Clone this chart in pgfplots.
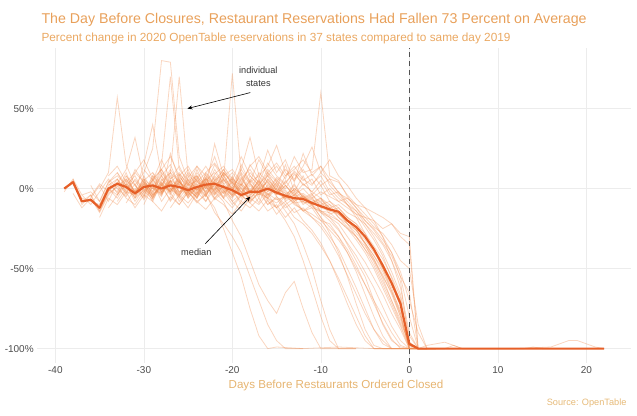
\documentclass[border=0pt]{standalone}
\usepackage{pgfplots}
\pgfplotsset{compat=1.18}
\usepackage{fontspec}
\setmainfont{Liberation Sans}
\usetikzlibrary{arrows.meta}
\definecolor{titlec}{RGB}{232,160,90}
\definecolor{subc}{RGB}{234,168,98}
\definecolor{labc}{RGB}{230,180,112}
\definecolor{srcc}{RGB}{230,186,120}
\definecolor{medc}{RGB}{230,95,40}
\definecolor{stc}{RGB}{240,140,80}
\definecolor{tickc}{RGB}{77,77,77}
\definecolor{gridc}{RGB}{236,236,236}
\pgfplotsset{st/.style={color=stc, opacity=0.36, line width=0.8pt, mark=none}}
\begin{document}
\begin{tikzpicture}
\path[use as bounding box] (0,0) rectangle (637pt,415pt);
\begin{axis}[
 at={(37.2pt,52pt)}, anchor=south west,
 scale only axis, width=593.8pt, height=315.2pt,
 xmin=-42.05, xmax=25.05, ymin=-109, ymax=88,
 axis line style={draw=none}, tick style={draw=none},
 xtick={-40,-30,-20,-10,0,10,20}, xticklabels={-40,-30,-20,-10,0,10,20},
 ytick={-100,-50,0,50}, yticklabels={-100\%,-50\%,0\%,50\%},
 grid=major, major grid style={draw=gridc, line width=0.6pt},
 ticklabel style={font=\fontsize{10}{12}\selectfont, text=tickc},
]
% individual states
\addplot[st] coordinates {(-34,5)(-33,-3)(-32,8)(-31,2)(-30,10)(-29,25)(-28,80)(-27,79)(-26,20)(-25,5)(-24,8)(-23,0)(-22,12)(-21,3)(-20,6)(-19,-2)(-18,4)(-17,8)(-16,1)(-15,-4)(-14,5)(-13,-3)(-12,-8)(-11,-5)(-10,-15)(-9,-18)(-8,-25)(-7,-35)(-6,-45)(-5,-55)(-4,-70)(-3,-85)(-2,-95)(-1,-99)(0,-100)(2,-100)};
\addplot[st] coordinates {(-36,-5)(-35,3)(-34,-2)(-33,6)(-32,-4)(-31,10)(-30,4)(-29,-2)(-28,15)(-27,70)(-26,12)(-25,5)(-24,-3)(-23,9)(-22,2)(-21,-6)(-20,7)(-19,0)(-18,-5)(-17,3)(-16,-2)(-15,6)(-14,-1)(-13,-7)(-12,-5)(-11,-8)(-10,-6)(-9,-12)(-8,-10)(-7,-15)(-6,-18)(-5,-22)(-4,-28)(-3,-35)(-2,-45)(-1,-58)(0,-98)(1,-100)(3,-100)};
\addplot[st] coordinates {(-33,-8)(-32,0)(-31,-5)(-30,3)(-29,-6)(-28,5)(-27,10)(-26,70)(-25,8)(-24,-2)(-23,4)(-22,-4)(-21,2)(-20,-8)(-19,-3)(-18,5)(-17,-1)(-16,-6)(-15,2)(-14,-8)(-13,-4)(-12,-8)(-11,-10)(-10,-14)(-9,-15)(-8,-20)(-7,-25)(-6,-32)(-5,-40)(-4,-50)(-3,-62)(-2,-74)(-1,-86)(0,-100)(2,-100)};
\addplot[st] coordinates {(-35,0)(-34,10)(-33,57)(-32,15)(-31,2)(-30,-4)(-29,6)(-28,-3)(-27,4)(-26,9)(-25,-2)(-24,3)(-23,-5)(-22,5)(-21,0)(-20,-4)(-19,6)(-18,-2)(-17,2)(-16,-4)(-15,4)(-14,-2)(-13,-8)(-12,-4)(-11,-10)(-10,-8)(-9,-16)(-8,-14)(-7,-22)(-6,-30)(-5,-38)(-4,-48)(-3,-60)(-2,-72)(-1,-85)(0,-99)(1,-100)};
\addplot[st] coordinates {(-30,-10)(-29,2)(-28,-4)(-27,8)(-26,-2)(-25,4)(-24,-6)(-23,10)(-22,3)(-21,5)(-20,72)(-19,8)(-18,-3)(-17,6)(-16,-2)(-15,4)(-14,-5)(-13,2)(-12,-6)(-11,-3)(-10,-12)(-9,-10)(-8,-18)(-7,-24)(-6,-30)(-5,-38)(-4,-45)(-3,-55)(-2,-65)(-1,-78)(0,-100)(1,-100)};
\addplot[st] coordinates {(-32,4)(-31,-6)(-30,8)(-29,-2)(-28,12)(-27,0)(-26,6)(-25,-4)(-24,10)(-23,2)(-22,15)(-21,6)(-20,-2)(-19,12)(-18,4)(-17,18)(-16,8)(-15,14)(-14,6)(-13,20)(-12,10)(-11,12)(-10,60)(-9,8)(-8,5)(-7,-5)(-6,-12)(-5,-20)(-4,-25)(-3,-32)(-2,-40)(-1,-55)(0,-65)(1,-100)(2,-100)};
\addplot[st] coordinates {(-34,-12)(-33,-4)(-32,6)(-31,-2)(-30,15)(-29,40)(-28,8)(-27,-3)(-26,5)(-25,-6)(-24,2)(-23,-8)(-22,4)(-21,-3)(-20,8)(-19,-6)(-18,0)(-17,-9)(-16,3)(-15,-5)(-14,-10)(-13,-6)(-12,-14)(-11,-12)(-10,-20)(-9,-22)(-8,-30)(-7,-38)(-6,-48)(-5,-60)(-4,-72)(-3,-84)(-2,-94)(-1,-100)(0,-100)};
\addplot[st] coordinates {(-33,3)(-32,12)(-31,32)(-30,6)(-29,-4)(-28,10)(-27,2)(-26,-5)(-25,7)(-24,14)(-23,4)(-22,-3)(-21,8)(-20,0)(-19,10)(-18,3)(-17,-4)(-16,6)(-15,-1)(-14,-6)(-13,0)(-12,-5)(-11,-9)(-10,-6)(-9,-14)(-8,-12)(-7,-18)(-6,-22)(-5,-28)(-4,-36)(-3,-44)(-2,-55)(-1,-68)(0,-100)(1,-100)};
\addplot[st] coordinates {(-31,-6)(-30,2)(-29,-8)(-28,4)(-27,-2)(-26,8)(-25,0)(-24,-6)(-23,6)(-22,-2)(-21,10)(-20,3)(-19,12)(-18,32)(-17,8)(-16,14)(-15,27)(-14,10)(-13,5)(-12,12)(-11,3)(-10,8)(-9,-2)(-8,-8)(-7,-12)(-6,-16)(-5,-18)(-4,-20)(-3,-25)(-2,-22)(-1,-28)(0,-30)(1,-100)(2,-100)};
\addplot[st] coordinates {(-38,-3)(-37,-12)(-36,-6)(-35,-15)(-34,-4)(-33,2)(-32,-6)(-31,-10)(-30,-2)(-29,4)(-28,-8)(-27,0)(-26,-5)(-25,-12)(-24,-3)(-23,2)(-22,-6)(-21,-1)(-20,-8)(-19,-14)(-18,-6)(-17,-10)(-16,-3)(-15,-12)(-14,-8)(-13,-15)(-12,-12)(-11,-18)(-10,-22)(-9,-30)(-8,-38)(-7,-50)(-6,-62)(-5,-75)(-4,-88)(-3,-97)(-2,-100)(0,-100)};
\addplot[st] coordinates {(-39,0)(-38,5)(-37,-6)(-36,-8)(-35,-10)(-34,2)(-33,6)(-32,-2)(-31,-4)(-30,3)(-29,0)(-28,-3)(-27,5)(-26,2)(-25,-4)(-24,0)(-23,6)(-22,3)(-21,-2)(-20,1)(-19,-5)(-18,-1)(-17,-4)(-16,2)(-15,-3)(-14,-6)(-13,-4)(-12,-9)(-11,-8)(-10,-12)(-9,-14)(-8,-16)(-7,-22)(-6,-26)(-5,-34)(-4,-42)(-3,-52)(-2,-64)(-1,-76)(0,-97)(1,-100)(2,-100)};
\addplot[st] coordinates {(-37,-8)(-36,-4)(-35,-14)(-34,-2)(-33,4)(-32,2)(-31,-6)(-30,-1)(-29,5)(-28,-2)(-27,3)(-26,-4)(-25,2)(-24,5)(-23,-3)(-22,8)(-21,2)(-20,-5)(-19,1)(-18,-7)(-17,0)(-16,4)(-15,-4)(-14,2)(-13,-5)(-12,-3)(-11,-7)(-10,-10)(-9,-8)(-8,-14)(-7,-18)(-6,-22)(-5,-30)(-4,-38)(-3,-50)(-2,-60)(-1,-70)(0,-100)(1,-100)};
\addplot[st] coordinates {(-35,-18)(-34,-6)(-33,-10)(-32,-2)(-31,-12)(-30,-4)(-29,-8)(-28,-14)(-27,-5)(-26,-10)(-25,-2)(-24,-8)(-23,-13)(-22,-6)(-21,-10)(-20,-16)(-19,-8)(-18,-12)(-17,-6)(-16,-14)(-15,-10)(-14,-18)(-13,-12)(-12,-20)(-11,-26)(-10,-34)(-9,-45)(-8,-58)(-7,-72)(-6,-85)(-5,-95)(-4,-100)(-2,-100)};
\addplot[st] coordinates {(-34,8)(-33,14)(-32,4)(-31,10)(-30,18)(-29,6)(-28,12)(-27,20)(-26,8)(-25,14)(-24,4)(-23,10)(-22,16)(-21,8)(-20,12)(-19,4)(-18,14)(-17,20)(-16,10)(-15,16)(-14,8)(-13,12)(-12,18)(-11,10)(-10,14)(-9,6)(-8,4)(-7,-4)(-6,-10)(-5,-16)(-4,-22)(-3,-30)(-2,-40)(-1,-52)(0,-70)(1,-90)(2,-100)(3,-100)};
\addplot[st] coordinates {(-30,12)(-29,5)(-28,18)(-27,6)(-26,10)(-25,2)(-24,14)(-23,8)(-22,3)(-21,12)(-20,5)(-19,20)(-18,8)(-17,2)(-16,10)(-15,4)(-14,12)(-13,6)(-12,14)(-11,26)(-10,10)(-9,18)(-8,8)(-7,2)(-6,-6)(-5,-12)(-4,-20)(-3,-30)(-2,-45)(-1,-62)(0,-90)(1,-100)(2,-100)};
\addplot[st] coordinates {(-29,-4)(-28,3)(-27,-8)(-26,1)(-25,-5)(-24,6)(-23,-2)(-22,4)(-21,-6)(-20,0)(-19,-10)(-18,-4)(-17,2)(-16,-8)(-15,-12)(-14,-4)(-13,-9)(-12,-14)(-11,-10)(-10,-18)(-9,-24)(-8,-30)(-7,-40)(-6,-52)(-5,-66)(-4,-80)(-3,-92)(-2,-100)(0,-100)};
\addplot[st] coordinates {(-28,6)(-27,-2)(-26,9)(-25,3)(-24,-4)(-23,7)(-22,0)(-21,10)(-20,4)(-19,-3)(-18,8)(-17,2)(-16,12)(-15,5)(-14,0)(-13,9)(-12,3)(-11,-2)(-10,5)(-9,-4)(-8,-2)(-7,-10)(-6,-14)(-5,-20)(-4,-26)(-3,-34)(-2,-42)(-1,-55)(0,-80)(1,-100)(4,-100)};
\addplot[st] coordinates {(-33,-4)(-32,3)(-31,-8)(-30,0)(-29,-5)(-28,4)(-27,-3)(-26,-10)(-25,-2)(-24,-8)(-23,-4)(-22,-12)(-21,-25)(-20,-40)(-19,-55)(-18,-75)(-17,-92)(-16,-100)(-15,-99)(-12,-100)(-8,-99)(-4,-100)(0,-100)(3,-100)};
\addplot[st] coordinates {(-31,2)(-30,-5)(-29,6)(-28,-2)(-27,4)(-26,-6)(-25,1)(-24,-3)(-23,5)(-22,-2)(-21,-8)(-20,-20)(-19,-30)(-18,-45)(-17,-60)(-16,-70)(-15,-78)(-14,-65)(-13,-58)(-12,-75)(-11,-90)(-10,-100)(-8,-100)};
\addplot[st] coordinates {(-36,-6)(-35,2)(-34,-8)(-33,4)(-32,-3)(-31,6)(-30,-1)(-29,-7)(-28,3)(-27,-4)(-26,5)(-25,-2)(-24,-9)(-23,-3)(-22,-15)(-21,-22)(-20,-30)(-19,-40)(-18,-55)(-17,-70)(-16,-85)(-15,-95)(-14,-100)(-12,-100)};
\addplot[st] coordinates {(-30,5)(-29,-3)(-28,8)(-27,0)(-26,-4)(-25,6)(-24,-1)(-23,4)(-22,-6)(-21,2)(-20,-4)(-19,3)(-18,-8)(-17,-2)(-16,-6)(-15,-12)(-14,-20)(-13,-30)(-12,-45)(-11,-62)(-10,-80)(-9,-95)(-8,-100)(-6,-100)};
\addplot[st] coordinates {(-34,0)(-33,-6)(-32,3)(-31,-2)(-30,6)(-29,-4)(-28,1)(-27,-7)(-26,4)(-25,-1)(-24,7)(-23,-3)(-22,2)(-21,-5)(-20,5)(-19,-2)(-18,-6)(-17,0)(-16,-10)(-15,-6)(-14,-14)(-13,-22)(-12,-35)(-11,-50)(-10,-70)(-9,-88)(-8,-100)(-6,-100)};
\addplot[st] coordinates {(-33,10)(-32,2)(-31,8)(-30,-2)(-29,5)(-28,12)(-27,3)(-26,-3)(-25,9)(-24,2)(-23,6)(-22,-1)(-21,10)(-20,4)(-19,-4)(-18,6)(-17,0)(-16,8)(-15,2)(-14,-5)(-13,3)(-12,-6)(-11,-10)(-10,-18)(-9,-28)(-8,-40)(-7,-55)(-6,-72)(-5,-88)(-4,-98)(-3,-100)(-1,-100)};
\addplot[st] coordinates {(-32,-9)(-31,0)(-30,-6)(-29,3)(-28,-3)(-27,5)(-26,-8)(-25,-1)(-24,-5)(-23,2)(-22,-7)(-21,-2)(-20,-10)(-19,-4)(-18,-9)(-17,-14)(-16,-7)(-15,-16)(-14,-10)(-13,-18)(-12,-22)(-11,-28)(-10,-36)(-9,-45)(-8,-56)(-7,-68)(-6,-80)(-5,-92)(-4,-100)(-2,-100)};
\addplot[st] coordinates {(-36,2)(-35,-8)(-34,4)(-33,10)(-32,0)(-31,5)(-30,-3)(-29,8)(-28,2)(-27,12)(-26,4)(-25,-2)(-24,6)(-23,14)(-22,5)(-21,9)(-20,-1)(-19,6)(-18,12)(-17,3)(-16,8)(-15,-2)(-14,4)(-13,10)(-12,2)(-11,6)(-10,-4)(-9,0)(-8,-6)(-7,-10)(-6,-16)(-5,-24)(-4,-32)(-3,-42)(-2,-56)(-1,-72)(0,-98)(1,-100)(5,-100)};
\addplot[st] coordinates {(-35,-10)(-34,0)(-33,-4)(-32,5)(-31,-2)(-30,2)(-29,-6)(-28,6)(-27,-1)(-26,3)(-25,-5)(-24,4)(-23,0)(-22,7)(-21,1)(-20,-3)(-19,4)(-18,-4)(-17,1)(-16,-5)(-15,3)(-14,-3)(-13,-1)(-12,-7)(-11,-4)(-10,-9)(-9,-12)(-8,-18)(-7,-22)(-6,-28)(-5,-34)(-4,-42)(-3,-50)(-2,-62)(-1,-78)(0,-100)(2,-100)};
\addplot[st] coordinates {(-33,6)(-32,-2)(-31,12)(-30,4)(-29,0)(-28,8)(-27,15)(-26,2)(-25,10)(-24,5)(-23,-2)(-22,9)(-21,14)(-20,6)(-19,2)(-18,10)(-17,4)(-16,16)(-15,8)(-14,3)(-13,11)(-12,5)(-11,9)(-10,2)(-9,6)(-8,-3)(-7,-6)(-6,-12)(-5,-18)(-4,-24)(-3,-28)(-2,-35)(-1,-45)(0,-50)(1,-85)(2,-100)(3,-100)};
\addplot[st] coordinates {(-31,-3)(-30,4)(-29,-5)(-28,2)(-27,-2)(-26,6)(-25,-6)(-24,1)(-23,-4)(-22,3)(-21,-1)(-20,-6)(-19,2)(-18,-3)(-17,5)(-16,-4)(-15,0)(-14,-7)(-13,-2)(-12,-10)(-11,-6)(-10,-14)(-9,-18)(-8,-22)(-7,-30)(-6,-38)(-5,-46)(-4,-56)(-3,-66)(-2,-78)(-1,-88)(0,-100)(2,-100)};
\addplot[st] coordinates {(-29,10)(-28,-2)(-27,6)(-26,14)(-25,3)(-24,8)(-23,-4)(-22,5)(-21,12)(-20,2)(-19,7)(-18,-2)(-17,10)(-16,4)(-15,-3)(-14,8)(-13,14)(-12,6)(-11,2)(-10,10)(-9,4)(-8,-2)(-7,-8)(-6,-14)(-5,-22)(-4,-30)(-3,-40)(-2,-52)(-1,-66)(0,-92)(1,-100)(3,-100)};
\addplot[st] coordinates {(-37,-4)(-36,-10)(-35,-2)(-34,6)(-33,0)(-32,-5)(-31,3)(-30,-7)(-29,1)(-28,-4)(-27,5)(-26,-2)(-25,0)(-24,-6)(-23,2)(-22,-1)(-21,6)(-20,-4)(-19,0)(-18,-8)(-17,-3)(-16,-6)(-15,-9)(-14,-4)(-13,-10)(-12,-13)(-11,-16)(-10,-20)(-9,-26)(-8,-32)(-7,-40)(-6,-50)(-5,-60)(-4,-70)(-3,-80)(-2,-90)(-1,-98)(0,-100)(1,-100)};
\addplot[st] coordinates {(-34,3)(-33,-2)(-32,10)(-31,-4)(-30,6)(-29,1)(-28,-5)(-27,10)(-26,4)(-25,12)(-24,-1)(-23,6)(-22,20)(-21,4)(-20,10)(-19,2)(-18,15)(-17,6)(-16,24)(-15,10)(-14,18)(-13,4)(-12,22)(-11,8)(-10,14)(-9,2)(-8,-4)(-7,-10)(-6,-18)(-5,-28)(-4,-38)(-3,-50)(-2,-64)(-1,-80)(0,-100)(2,-100)};
\addplot[st] coordinates {(-28,-2)(-27,5)(-26,-4)(-25,3)(-24,-1)(-23,7)(-22,-3)(-21,2)(-20,-5)(-19,3)(-18,-2)(-17,5)(-16,-6)(-15,0)(-14,-3)(-13,-8)(-12,-5)(-11,-11)(-10,-15)(-9,-20)(-8,-26)(-7,-34)(-6,-42)(-5,-52)(-4,-62)(-3,-74)(-2,-86)(-1,-95)(0,-100)(4,-100)(5,-98)(6,-100)(12,-100)(16,-99)(17,-97)(18,-95)(19,-95)(20,-97)(21,-99)(22,-100)};
\addplot[st] coordinates {(-26,4)(-25,-3)(-24,8)(-23,1)(-22,-4)(-21,6)(-20,0)(-19,9)(-18,-2)(-17,4)(-16,-1)(-15,7)(-14,2)(-13,-4)(-12,3)(-11,-2)(-10,-6)(-9,-10)(-8,-14)(-7,-20)(-6,-26)(-5,-34)(-4,-44)(-3,-56)(-2,-70)(-1,-84)(0,-96)(1,-100)(2,-98)(3,-97)(4,-96)(5,-98)(6,-100)(13,-100)(14,-99)(15,-100)(22,-100)};
\addplot[st] coordinates {(-38,6)(-37,-4)(-36,-2)(-35,-8)(-34,4)(-33,8)(-32,2)(-31,-3)(-30,5)(-29,10)(-28,3)(-27,-2)(-26,7)(-25,2)(-24,-4)(-23,5)(-22,10)(-21,3)(-20,-2)(-19,-8)(-18,2)(-17,-4)(-16,6)(-15,-1)(-14,-6)(-13,0)(-12,-4)(-11,-9)(-10,-7)(-9,-12)(-8,-16)(-7,-20)(-6,-26)(-5,-32)(-4,-40)(-3,-48)(-2,-58)(-1,-70)(0,-100)(1,-100)};
\addplot[st] coordinates {(-32,8)(-31,-2)(-30,4)(-29,-6)(-28,2)(-27,10)(-26,-3)(-25,5)(-24,0)(-23,-5)(-22,6)(-21,-1)(-20,4)(-19,-4)(-18,3)(-17,-2)(-16,5)(-15,-3)(-14,2)(-13,-4)(-12,0)(-11,-6)(-10,-2)(-9,-5)(-8,-8)(-7,-6)(-6,-10)(-5,-12)(-4,-15)(-3,-18)(-2,-22)(-1,-30)(0,-35)(1,-100)(3,-100)};
\addplot[st] coordinates {(-30,-5)(-29,8)(-28,-2)(-27,22)(-26,5)(-25,-4)(-24,12)(-23,0)(-22,28)(-21,8)(-20,-2)(-19,15)(-18,4)(-17,-6)(-16,10)(-15,0)(-14,15)(-13,-2)(-12,8)(-11,-4)(-10,2)(-9,-8)(-8,-12)(-7,-18)(-6,-25)(-5,-35)(-4,-46)(-3,-58)(-2,-70)(-1,-82)(0,-98)(1,-100)};
\addplot[st] coordinates {(-39,-2)(-38,6)(-37,-10)(-36,-4)(-35,-14)(-34,-3)(-33,1)(-32,6)(-31,-2)(-30,3)(-29,-4)(-28,2)(-27,-1)(-26,4)(-25,0)(-24,-5)(-23,3)(-22,1)(-21,-3)(-20,2)(-19,-2)(-18,-6)(-17,0)(-16,-3)(-15,-7)(-14,-5)(-13,-9)(-12,-8)(-11,-12)(-10,-14)(-9,-17)(-8,-20)(-7,-25)(-6,-30)(-5,-36)(-4,-44)(-3,-54)(-2,-66)(-1,-80)(0,-98)(1,-100)};
\addplot[st] coordinates {(-27,-12)(-26,-4)(-25,-9)(-24,-2)(-23,-8)(-22,0)(-21,-6)(-20,-12)(-19,-4)(-18,-9)(-17,-2)(-16,-10)(-15,-5)(-14,-12)(-13,-8)(-12,-14)(-11,-18)(-10,-24)(-9,-32)(-8,-42)(-7,-54)(-6,-66)(-5,-78)(-4,-88)(-3,-95)(-2,-100)(0,-100)};
% closure day
\addplot[draw=black!68, line width=1.5pt, dash pattern=on 5pt off 4pt, mark=none] coordinates {(0,-109)(0,88)};
% median
\addplot[color=medc, line width=2.2pt, mark=none, line join=round] coordinates {(-39,0)(-38,4)(-37,-8)(-36,-7)(-35,-12)(-34,0)(-33,3)(-32,1)(-31,-3)(-30,1)(-29,2)(-28,0)(-27,2)(-26,1)(-25,-1)(-24,1)(-23,2.5)(-22,3)(-21,1)(-20,-1)(-19,-4)(-18,-2)(-17,-2)(-16,0)(-15,-2.5)(-14,-4.5)(-13,-6)(-12,-6.5)(-11,-9)(-10,-11)(-9,-13)(-8,-14.5)(-7,-20)(-6,-24)(-5,-30)(-4,-38)(-3,-48)(-2,-59)(-1,-72)(0,-97)(1,-100)(22,-100)};
% annotations
\node[font=\fontsize{9.2}{11}\selectfont, text=black!80] at (axis cs:-17.06,73.75) {individual};
\node[font=\fontsize{9.2}{11}\selectfont, text=black!80] at (axis cs:-17.06,65.6) {states};
\draw[black, line width=0.6pt, -{Stealth[length=5pt,width=4pt]}] (axis cs:-17.97,60) -- (axis cs:-25.08,50);
\node[font=\fontsize{9.2}{11}\selectfont, text=black!80] at (axis cs:-24.07,-40) {median};
\draw[black, line width=0.6pt, -{Stealth[length=5pt,width=4pt]}] (axis cs:-23.05,-34.4) -- (axis cs:-17.97,-5);
\end{axis}
\node[anchor=base west, text=titlec, font=\fontsize{14.2}{16}\selectfont] at (38pt,391pt) {The Day Before Closures, Restaurant Reservations Had Fallen 73 Percent on Average};
\node[anchor=base west, text=subc, font=\fontsize{11.8}{13}\selectfont] at (38pt,373pt) {Percent change in 2020 OpenTable reservations in 37 states compared to same day 2019};
\node[anchor=base, text=labc, font=\fontsize{11.6}{13}\selectfont] at (336pt,27pt) {Days Before Restaurants Ordered Closed};
\node[anchor=base east, text=srcc, font=\fontsize{9.2}{11}\selectfont] at (630pt,10pt) {Source: OpenTable};
\end{tikzpicture}
\end{document}
